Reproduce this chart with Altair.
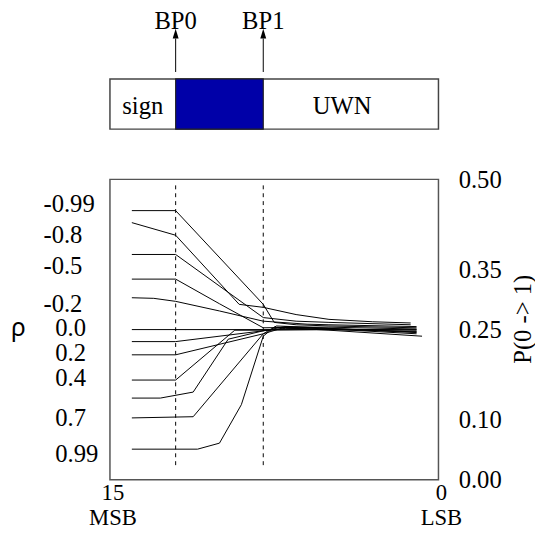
import altair as alt
import pandas as pd

W, H = 333.5, 305
SERIF = "Liberation Serif"
FS = 25

# ---- data: bit position (15 = MSB ... 0 = LSB) and P(0 -> 1)
curve_names = ["c01", "c02", "c03", "c04", "c05", "c06", "c07", "c08", "c09", "c10", "c11", "c12"]
curve_bits = [
    [14, 12, 8, 7.5, 6.5, 5, 1],
    [14, 12, 9.1, 8, 6.5, 5, 3, 1.27],
    [14, 12, 8, 6.5, 5, 1.27],
    [14, 12, 10, 8, 6, 5, 1],
    [14, 13, 12, 10, 8, 6, 5, 1],
    [14, 1],
    [14, 12, 8, 7, 5, 1],
    [14, 12, 8, 7.4, 6, 5, 1],
    [14, 12, 9.3, 8, 5, 1],
    [14, 12.7, 11.2, 9.6, 8, 7, 5, 1],
    [14, 11.2, 8, 7, 5, 1],
    [14, 11, 10, 9, 8, 7.5, 6, 5, 0.75],
]
curve_p = [
    [0.448, 0.448, 0.292, 0.262, 0.258, 0.256, 0.253],
    [0.428, 0.407, 0.292, 0.287, 0.275, 0.267, 0.263, 0.261],
    [0.375, 0.375, 0.270, 0.264, 0.262, 0.258],
    [0.334, 0.334, 0.293, 0.253, 0.254, 0.254, 0.251],
    [0.303, 0.302, 0.297, 0.281, 0.264, 0.259, 0.258, 0.255],
    [0.250, 0.250],
    [0.230, 0.230, 0.248, 0.252, 0.251, 0.249],
    [0.208, 0.208, 0.243, 0.256, 0.254, 0.252, 0.246],
    [0.166, 0.166, 0.249, 0.249, 0.250, 0.247],
    [0.136, 0.136, 0.146, 0.234, 0.248, 0.255, 0.252, 0.245],
    [0.103, 0.105, 0.243, 0.254, 0.251, 0.243],
    [0.051, 0.051, 0.061, 0.125, 0.239, 0.254, 0.251, 0.249, 0.239],
]

rho_labels = ["-0.99", "-0.8", "-0.5", "-0.2", "0.0", "0.2", "0.4", "0.7", "0.99"]
rho_label_p = [0.458, 0.408, 0.355, 0.293, 0.252, 0.211, 0.170, 0.1025, 0.043]

y_tick_values = [0.0, 0.10, 0.25, 0.35, 0.50]
x_tick_values = [15, 0]
x_tick_labels = ["15", "0"]
x_end_labels = ["MSB", "LSB"]

break_points = [12, 8]
break_names = ["BP0", "BP1"]
dash_top, dash_bottom = 0.49, 0.018

field_names = ["sign", "UWN"]
field_centers = [13.5, 4.4]

# ---- tables
rows = []
for name, bits, ps in zip(curve_names, curve_bits, curve_p):
    for i, (b, p) in enumerate(zip(bits, ps)):
        rows.append({"curve": name, "seq": i, "bit": b, "p": p})
lines_df = pd.DataFrame(rows)

rho_df = pd.DataFrame({"label": rho_labels, "p": rho_label_p})
rho_df["neg"] = rho_df["label"].str.startswith("-")
bp_df = pd.DataFrame({"bit": break_points, "name": break_names,
                      "top": [dash_top] * 2, "bottom": [dash_bottom] * 2})
box_df = pd.DataFrame({"x0": [15], "x1": [0]})
blue_df = pd.DataFrame({"x0": [break_points[0]], "x1": [break_points[1]]})
field_df = pd.DataFrame({"name": field_names, "bit": field_centers})
xt_df = pd.DataFrame({"bit": x_tick_values,
                      "lab": [a + "\n" + b for a, b in zip(x_tick_labels, x_end_labels)]})

xs = alt.Scale(domain=[15, 0])
ys = alt.Scale(domain=[0, 0.5])
yaxis = alt.Axis(
    orient="right", values=y_tick_values, format=".2f", ticks=False,
    domain=False, grid=False, labelFont=SERIF, labelFontSize=FS,
    labelColor="black", labelPadding=20, title=None)


def X(f):
    return alt.X(f, type="quantitative", scale=xs, axis=None)


def Y(f):
    return alt.Y(f, type="quantitative", scale=ys, axis=yaxis)


lines = alt.Chart(lines_df).mark_line(color="black", strokeWidth=1).encode(
    x=X("bit"), y=Y("p"), detail="curve:N", order="seq:Q")

dashes = alt.Chart(bp_df).mark_rule(color="black", strokeWidth=1, strokeDash=[4, 4]).encode(
    x=X("bit"), y=Y("top"), y2="bottom:Q")

box = alt.Chart(box_df).mark_rect(fill="white", stroke="#444444", strokeWidth=1.5).encode(
    x=X("x0"), x2="x1", y=alt.value(-102), y2=alt.value(-51))
blue = alt.Chart(blue_df).mark_rect(fill="#0000A8", stroke="#222222", strokeWidth=1.2).encode(
    x=X("x0"), x2="x1", y=alt.value(-102), y2=alt.value(-51))

arrows = alt.Chart(bp_df).mark_rule(color="black", strokeWidth=1).encode(
    x=X("bit"), y=alt.value(-109), y2=alt.value(-143))
heads = alt.Chart(bp_df).mark_point(
    shape="M0,-1L0.6,1L-0.6,1Z", filled=True, color="black", size=100, opacity=1
).encode(x=X("bit"), y=alt.value(-148))
bp_text = alt.Chart(bp_df).mark_text(
    font=SERIF, fontSize=FS, baseline="alphabetic", align="center", color="black"
).encode(x=X("bit"), y=alt.value(-153), text="name:N")

fields = alt.Chart(field_df).mark_text(
    font=SERIF, fontSize=FS, baseline="alphabetic", align="center", color="black"
).encode(x=X("bit"), y=alt.value(-66), text="name:N")

rho_neg = alt.Chart(rho_df).transform_filter("datum.neg").mark_text(
    font=SERIF, fontSize=FS, align="left", baseline="middle", color="black"
).encode(x=alt.value(-67.5), y=Y("p"), text="label:N")
rho_pos = alt.Chart(rho_df).transform_filter("!datum.neg").mark_text(
    font=SERIF, fontSize=FS, align="left", baseline="middle", color="black"
).encode(x=alt.value(-55.5), y=Y("p"), text="label:N")

rho_sym = alt.Chart(pd.DataFrame({"t": ["ρ"]})).mark_text(
    font="Noto Sans", fontSize=FS, align="center", baseline="alphabetic", color="black"
).encode(x=alt.value(-93), y=alt.value(159), text="t:N")

ytitle = alt.Chart(pd.DataFrame({"t": ["P(0 -> 1)"]})).mark_text(
    font=SERIF, fontSize=FS, align="center", baseline="middle", angle=270, color="black"
).encode(x=alt.value(W + 86), y=alt.value(142), text="t:N")

xlabels = alt.Chart(xt_df).mark_text(
    font=SERIF, fontSize=23, align="center", baseline="alphabetic", color="black",
    dx=3, lineBreak="\n", lineHeight=25.5
).encode(x=X("bit"), y=alt.value(H + 20), text="lab:N")

chart = alt.layer(
    lines, dashes, box, blue, arrows, heads, bp_text, fields,
    rho_neg, rho_pos, rho_sym, ytitle, xlabels
).properties(
    width=W, height=H,
    autosize=alt.AutoSizeParams(type="none"),
    padding={"left": 103.5, "top": 170, "right": 98, "bottom": 48},
).configure_view(stroke="#555555", strokeWidth=1.5)

chart.save("out.html", embed_options={"renderer": "svg", "actions": False})
